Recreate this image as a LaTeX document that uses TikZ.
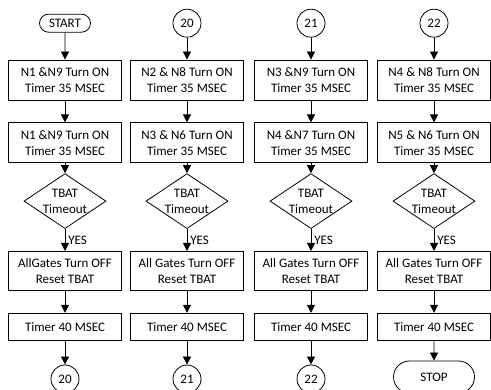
\documentclass[tikz,border=0pt]{standalone}
\usepackage{fontspec}
\setmainfont{Carlito}
\usetikzlibrary{positioning,arrows.meta,shapes.geometric,shapes.misc}

\begin{document}
\begin{tikzpicture}[
        x=1pt, y=1pt,
        font=\fontsize{13}{16}\selectfont,
        procbox/.style={
            draw,
            line width=0.8pt,
            align=center,
            minimum width=113pt,
            minimum height=40pt,
            inner sep=2pt
        },
        decision/.style={
            draw,
            diamond,
            aspect=1.5,
            line width=0.8pt,
            align=center,
            inner sep=0pt,
            minimum width=82pt,
            minimum height=55pt
        },
        terminal/.style={
            draw,
            rounded rectangle,
            line width=0.8pt,
            inner sep=2pt
        },
        conn/.style={
            draw,
            circle,
            line width=0.8pt,
            inner sep=0pt,
            minimum size=28pt
        },
        link/.style={-{Triangle[length=8pt,width=8pt]}, line width=0.8pt},
        yes/.style={right, inner sep=3pt, pos=0.5}
    ]
        \useasboundingbox (0,0) rectangle (491,-390);

        % column 1
        \node[procbox] (on1a) at (65,-80) {N1 \&N9 Turn ON\\Timer 35 MSEC};
        \node[terminal, minimum width=55pt, minimum height=18pt, above=27pt of on1a] (s1) {START};
        \node[procbox, below=22pt of on1a] (on1b) {N1 \&N9 Turn ON\\Timer 35 MSEC};
        \node[decision, below=10pt of on1b] (tbat1) {TBAT\\Timeout};
        \node[procbox, minimum height=39pt, below=22pt of tbat1] (off1) {AllGates Turn OFF\\Reset TBAT};
        \node[procbox, minimum height=27pt, below=22pt of off1] (wait1) {Timer 40 MSEC};
        \node[conn, below=24pt of wait1] (e1) {20};

        % column 2
        \node[procbox] (on2a) at (187,-80) {N2 \& N8 Turn ON\\Timer 35 MSEC};
        \node[conn, above=22pt of on2a] (s2) {20};
        \node[procbox, below=22pt of on2a] (on2b) {N3 \& N6 Turn ON\\Timer 35 MSEC};
        \node[decision, below=10pt of on2b] (tbat2) {TBAT\\Timeout};
        \node[procbox, minimum height=39pt, below=22pt of tbat2] (off2) {All Gates Turn OFF\\Reset TBAT};
        \node[procbox, minimum height=27pt, below=22pt of off2] (wait2) {Timer 40 MSEC};
        \node[conn, below=24pt of wait2] (e2) {21};

        % column 3
        \node[procbox] (on3a) at (311,-80) {N3 \&N9 Turn ON\\Timer 35 MSEC};
        \node[conn, above=22pt of on3a] (s3) {21};
        \node[procbox, below=22pt of on3a] (on3b) {N4 \&N7 Turn ON\\Timer 35 MSEC};
        \node[decision, below=10pt of on3b] (tbat3) {TBAT\\Timeout};
        \node[procbox, minimum height=39pt, below=22pt of tbat3] (off3) {All Gates Turn OFF\\Reset TBAT};
        \node[procbox, minimum height=27pt, below=22pt of off3] (wait3) {Timer 40 MSEC};
        \node[conn, below=24pt of wait3] (e3) {22};

        % column 4
        \node[procbox] (on4a) at (434,-80) {N4 \& N8 Turn ON\\Timer 35 MSEC};
        \node[conn, above=22pt of on4a] (s4) {22};
        \node[procbox, below=22pt of on4a] (on4b) {N5 \& N6 Turn ON\\Timer 35 MSEC};
        \node[decision, below=10pt of on4b] (tbat4) {TBAT\\Timeout};
        \node[procbox, minimum height=39pt, below=22pt of tbat4] (off4) {All Gates Turn OFF\\Reset TBAT};
        \node[procbox, minimum height=27pt, below=22pt of off4] (wait4) {Timer 40 MSEC};
        \node[terminal, minimum width=85pt, minimum height=32pt, below=20pt of wait4] (e4) {STOP};

        \draw[link] (s1) -- (on1a);
        \draw[link] (on1a) -- (on1b);
        \draw[link] (on1b) -- (tbat1);
        \draw[link] (tbat1) -- node[yes] {YES} (off1);
        \draw[link] (off1) -- (wait1);
        \draw[link] (wait1) -- (e1);

        \draw[link] (s2) -- (on2a);
        \draw[link] (on2a) -- (on2b);
        \draw[link] (on2b) -- (tbat2);
        \draw[link] (tbat2) -- node[yes] {YES} (off2);
        \draw[link] (off2) -- (wait2);
        \draw[link] (wait2) -- (e2);

        \draw[link] (s3) -- (on3a);
        \draw[link] (on3a) -- (on3b);
        \draw[link] (on3b) -- (tbat3);
        \draw[link] (tbat3) -- node[yes] {YES} (off3);
        \draw[link] (off3) -- (wait3);
        \draw[link] (wait3) -- (e3);

        \draw[link] (s4) -- (on4a);
        \draw[link] (on4a) -- (on4b);
        \draw[link] (on4b) -- (tbat4);
        \draw[link] (tbat4) -- node[yes] {YES} (off4);
        \draw[link] (off4) -- (wait4);
        \draw[link] (wait4) -- (e4);
    \end{tikzpicture}
\end{document}
